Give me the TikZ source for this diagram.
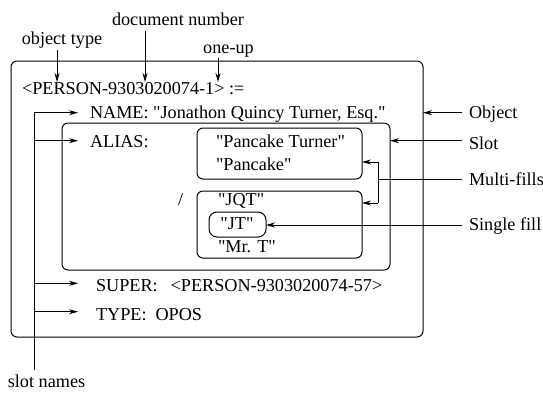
\documentclass[tikz,border=0pt]{standalone}
\usepackage{fontspec}
\setmainfont{Liberation Serif}[Ligatures=TeXOff]
\usetikzlibrary{arrows.meta}
\begin{document}
\begin{tikzpicture}[x=1pt,y=-1pt,
  every node/.style={font=\fontsize{18.2}{22}\selectfont, inner sep=0pt, outer sep=0pt},
  txt/.style={anchor=base west},
  lbl/.style={anchor=base},
  frame/.style={draw, line width=1pt, rounded corners=6pt},
  ln/.style={line width=0.9pt},
  arr/.style={ln, -{Stealth[length=9pt,width=5pt]}},
]
\useasboundingbox (0,0) rectangle (543,394);

% nested frames: object, slot, the two fill groups
\node[frame, minimum width=412pt, minimum height=276pt] (object) at (217,199) {};
\node[frame, minimum width=328pt, minimum height=147pt] (slot) at (226,196.5) {};
\node[frame, minimum width=165pt, minimum height=51pt] (fillA) at (279.5,153.5) {};
\node[frame, minimum width=165pt, minimum height=67pt] (fillB) at (279.5,224.5) {};
\node[frame, rounded corners=8pt, minimum width=57pt, minimum height=25pt] (jt) at (237.5,224.5) {};
\node[anchor=base] (jttext) at (237,229) {"JT"};

% object contents
\node[txt] (head) at (22,94) {<PERSON-9303020074-1> :=};
\node[txt] (name) at (90,118) {NAME: "Jonathon Quincy Turner, Esq."};
\node[txt] (alias) at (90,147) {ALIAS:};
\node[txt] (pt) at (216,147) {"Pancake Turner"};
\node[txt] (pc) at (216,170.5) {"Pancake"};
\node[txt] (slash) at (178,205) {/};
\node[txt] (jqt) at (218,205.5) {"JQT"};
\node[txt] (mrt) at (218,252.5) {"Mr. T"};
\node[txt] (super) at (96,291.5) {SUPER:\hspace{13pt}<PERSON-9303020074-57>};
\node[txt] (type) at (96,320) {TYPE:\hspace{9pt}OPOS};

% labels above
\node[lbl] (otype) at (62,44) {object type};
\node[lbl] (docnum) at (178,25) {document number};
\node[lbl] (oneup) at (228.5,53) {one-up};

% labels on the right
\node[txt] (lobj) at (469,118) {Object};
\node[txt] (lslot) at (469,149) {Slot};
\node[txt] (lmulti) at (469,185) {Multi-fills};
\node[txt] (lsingle) at (469,230) {Single fill};

% label below
\node[lbl] (lnames) at (46.5,387) {slot names};

% arrows from the top labels into the header
\coordinate (otA) at (57,50);   \coordinate (otB) at (57,82);
\coordinate (dnA) at (145,31);  \coordinate (dnB) at (145,82);
\coordinate (ouA) at (218,58);  \coordinate (ouB) at (218,82);
\draw[arr] (otA) -- (otB);
\draw[arr] (dnA) -- (dnB);
\draw[arr] (ouA) -- (ouB);

% slot-name bus on the left
\coordinate (busT) at (34,112.7);
\coordinate (busB) at (34,370);
\draw[ln] (busT) -- (busB);
\draw[arr] (busT) -- (78,112.7);
\draw[arr] (34,140.7) -- (78,140.7);
\draw[arr] (34,283.3) -- (78,283.3);
\draw[arr] (34,311.7) -- (78,311.7);

% right-hand callouts
\draw[arr] ([xshift=-7pt]lobj.west |- 0,112.7) -- (object.east |- 0,112.7);
\draw[arr] ([xshift=-7pt]lslot.west |- 0,140.7) -- (slot.east |- 0,140.7);
\coordinate (mfJ) at (378,179.3);
\draw[ln] ([xshift=-7pt]lmulti.west |- mfJ) -- (mfJ);
\draw[ln] (378,162) -- (378,203);
\draw[arr] (378,162) -- (fillA.east |- 0,162);
\draw[arr] (378,203) -- (fillB.east |- 0,203);
\draw[arr] ([xshift=-7pt]lsingle.west |- 0,225) -- (jt.east |- 0,225);
\end{tikzpicture}
\end{document}
